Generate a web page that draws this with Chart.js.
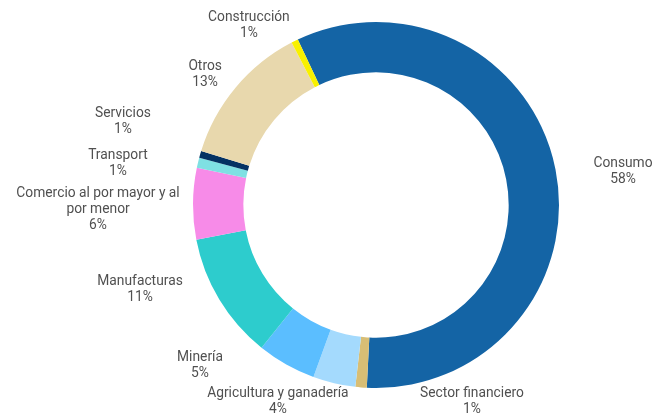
<!DOCTYPE html>
<html>
<head>
<meta charset="utf-8">
<script src="https://cdn.jsdelivr.net/npm/chart.js@4/dist/chart.umd.min.js"></script>
<style>
  html, body { margin: 0; padding: 0; background: #ffffff; }
  #wrap { width: 653px; height: 414px; position: relative; }
</style>
</head>
<body>
<div id="wrap"><canvas id="c" width="653" height="414"></canvas></div>
<script>
// Data
const categories = ["Consumo", "Sector financiero", "Agricultura y ganadería", "Minería", "Manufacturas",
                    "Comercio al por mayor y al por menor", "Transport", "Servicios", "Otros", "Construcción"];
const shares = [57.8, 1.0, 3.75, 5.2, 11.2, 6.3, 0.9, 0.6, 12.6, 0.6];
const shareLabels = ["58%", "1%", "4%", "5%", "11%", "6%", "1%", "1%", "13%", "1%"];
const labelLines = [["Consumo"], ["Sector financiero"], ["Agricultura y ganadería"], ["Minería"], ["Manufacturas"],
                    ["Comercio al por mayor y al", "por menor"], ["Transport"], ["Servicios"], ["Otros"], ["Construcción"]];

// Styling
const colors = ["#1464A5", "#D8BE75", "#A4DAFD", "#5BBEFF", "#2DCCCD", "#F78BE8", "#7FE0E3", "#043263", "#E8D8AD", "#F8F000"];
// label placement: angle (deg, clockwise from top) and distance as a multiple of the outer radius
const labelAngle = [82, 153.8, -153.3, -132.1, -109.4, -90.6, -80.5, -71.4, -52.3, -35.1];
const labelDist = [1.363, 1.188, 1.193, 1.296, 1.367, 1.519, 1.43, 1.459, 1.18, 1.208];

const labelPlugin = {
  id: 'outerLabels',
  afterDatasetsDraw(chart) {
    const meta = chart.getDatasetMeta(0);
    const ctx = chart.ctx;
    ctx.save();
    ctx.font = '13.8px Roboto';
    ctx.fillStyle = '#505050';
    ctx.textAlign = 'center';
    ctx.textBaseline = 'middle';
    const lh = 16;
    meta.data.forEach((arc, i) => {
      const p = arc.getProps(['x', 'y', 'outerRadius'], true);
      const a = labelAngle[i] * Math.PI / 180;
      const R = p.outerRadius * labelDist[i];
      const cx = p.x + R * Math.sin(a);
      const cy = p.y - R * Math.cos(a) + 1.5;
      const lines = labelLines[i].concat([shareLabels[i]]);
      const y0 = cy - (lines.length - 1) * lh / 2;
      lines.forEach((t, k) => ctx.fillText(t, cx, y0 + k * lh));
    });
    ctx.restore();
  }
};

new Chart(document.getElementById('c'), {
  type: 'doughnut',
  data: {
    labels: categories,
    datasets: [{
      data: shares,
      backgroundColor: colors,
      borderWidth: 0,
      hoverOffset: 0
    }]
  },
  options: {
    responsive: false,
    animation: false,
    rotation: -25.3,
    cutout: '72.5%',
    layout: { padding: { left: 193, right: 94, top: 22, bottom: 26 } },
    plugins: { legend: { display: false }, tooltip: { enabled: false } }
  },
  plugins: [labelPlugin]
});
</script>
</body>
</html>
